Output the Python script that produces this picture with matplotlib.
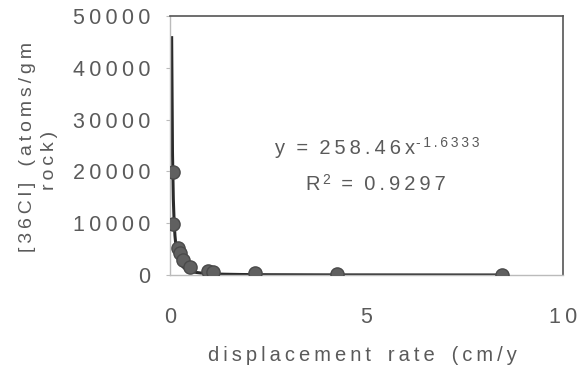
import matplotlib.pyplot as plt
import numpy as np

plt.rcParams['font.family'] = ['Liberation Sans', 'DejaVu Sans']

# displacement rate (cm/yr) vs [36Cl] (atoms/gm rock)
rate = [0.08, 0.08, 0.2, 0.25, 0.33, 0.5, 0.97, 1.1, 2.16, 4.25, 8.45]
cl36 = [19900, 9850, 5200, 4250, 2900, 1550, 800, 600, 300, 150, 60]

# power trendline y = a * x^b
fit_a = 258.46
fit_b = -1.6333
r2 = 0.9297

x_ticks = [0, 5, 10]
y_ticks = [0, 10000, 20000, 30000, 40000, 50000]

grey = '#5a5a5a'
fs = 14.5


def track(s, sep='\u2009'):
    # the scanned chart has wide letter spacing
    return sep.join(s)


fig = plt.figure(figsize=(5.83, 3.69), dpi=100)
ax = fig.add_axes([0.2916, 0.2547, 0.6741, 0.7019])

xt = np.linspace(0.042, max(rate), 400)
ax.plot(xt, fit_a * xt ** fit_b, color='#2a2a2a', lw=2.2, zorder=2)
ax.plot(rate, cl36, 'o', color='#606060', mec='#4a4a4a', markersize=9.5, zorder=3)

ax.set_xlim(0, 10)
ax.set_ylim(0, 50000)
ax.set_xticks(x_ticks)
ax.set_xticklabels([track(str(v)) for v in x_ticks])
ax.set_yticks(y_ticks)
ax.set_yticklabels([track(str(v)) for v in y_ticks])
ax.tick_params(axis='both', colors='#bbbbbb', labelcolor=grey, labelsize=15.5,
               length=3, width=0.8)
ax.tick_params(axis='x', length=0, pad=23)
ax.tick_params(axis='y', pad=11)

for s in ['left', 'bottom']:
    ax.spines[s].set_color('#bbbbbb')
    ax.spines[s].set_linewidth(1.0)
for s in ['top', 'right']:
    ax.spines[s].set_color('#555555')
    ax.spines[s].set_linewidth(1.2)

# two-line y label, drawn as separate rotated texts
fig.text(28 / 583, 1 - 147 / 369, track('[36Cl]') + '   ' + track('(atoms/gm'),
         fontsize=14, color=grey, rotation=90, ha='center', va='center')
fig.text(50 / 583, 1 - 160 / 369, track('rock)'),
         fontsize=14, color=grey, rotation=90, ha='center', va='center')

ax.set_xlabel(track('displacement') + '   ' + track('rate') + '   ' + track('(cm/y'),
              fontsize=fs, color=grey, labelpad=13, x=0.49)

eq = ax.text(2.68, 24500, track('y') + '  =  ' + track('258.46x'), fontsize=fs,
             color=grey, ha='left', va='center')
fig.canvas.draw()
bb = eq.get_window_extent()
ax.annotate(track('-1.6333'), xy=(bb.x1, bb.y1), xycoords='figure pixels',
            xytext=(0.5, -3), textcoords='offset points', fontsize=10,
            color=grey, ha='left', va='center')

rt = ax.text(3.45, 17400, track('R'), fontsize=fs, color=grey,
             ha='left', va='center')
fig.canvas.draw()
bb = rt.get_window_extent()
ax.annotate('2', xy=(bb.x1, bb.y1), xycoords='figure pixels',
            xytext=(1.5, -3), textcoords='offset points', fontsize=10,
            color=grey, ha='left', va='center')
ax.annotate('  =  ' + track('0.9297'), xy=(bb.x1, (bb.y0 + bb.y1) / 2),
            xycoords='figure pixels', xytext=(7, 0), textcoords='offset points',
            fontsize=fs, color=grey, ha='left', va='center')

fig.savefig('out.png', dpi=100)
